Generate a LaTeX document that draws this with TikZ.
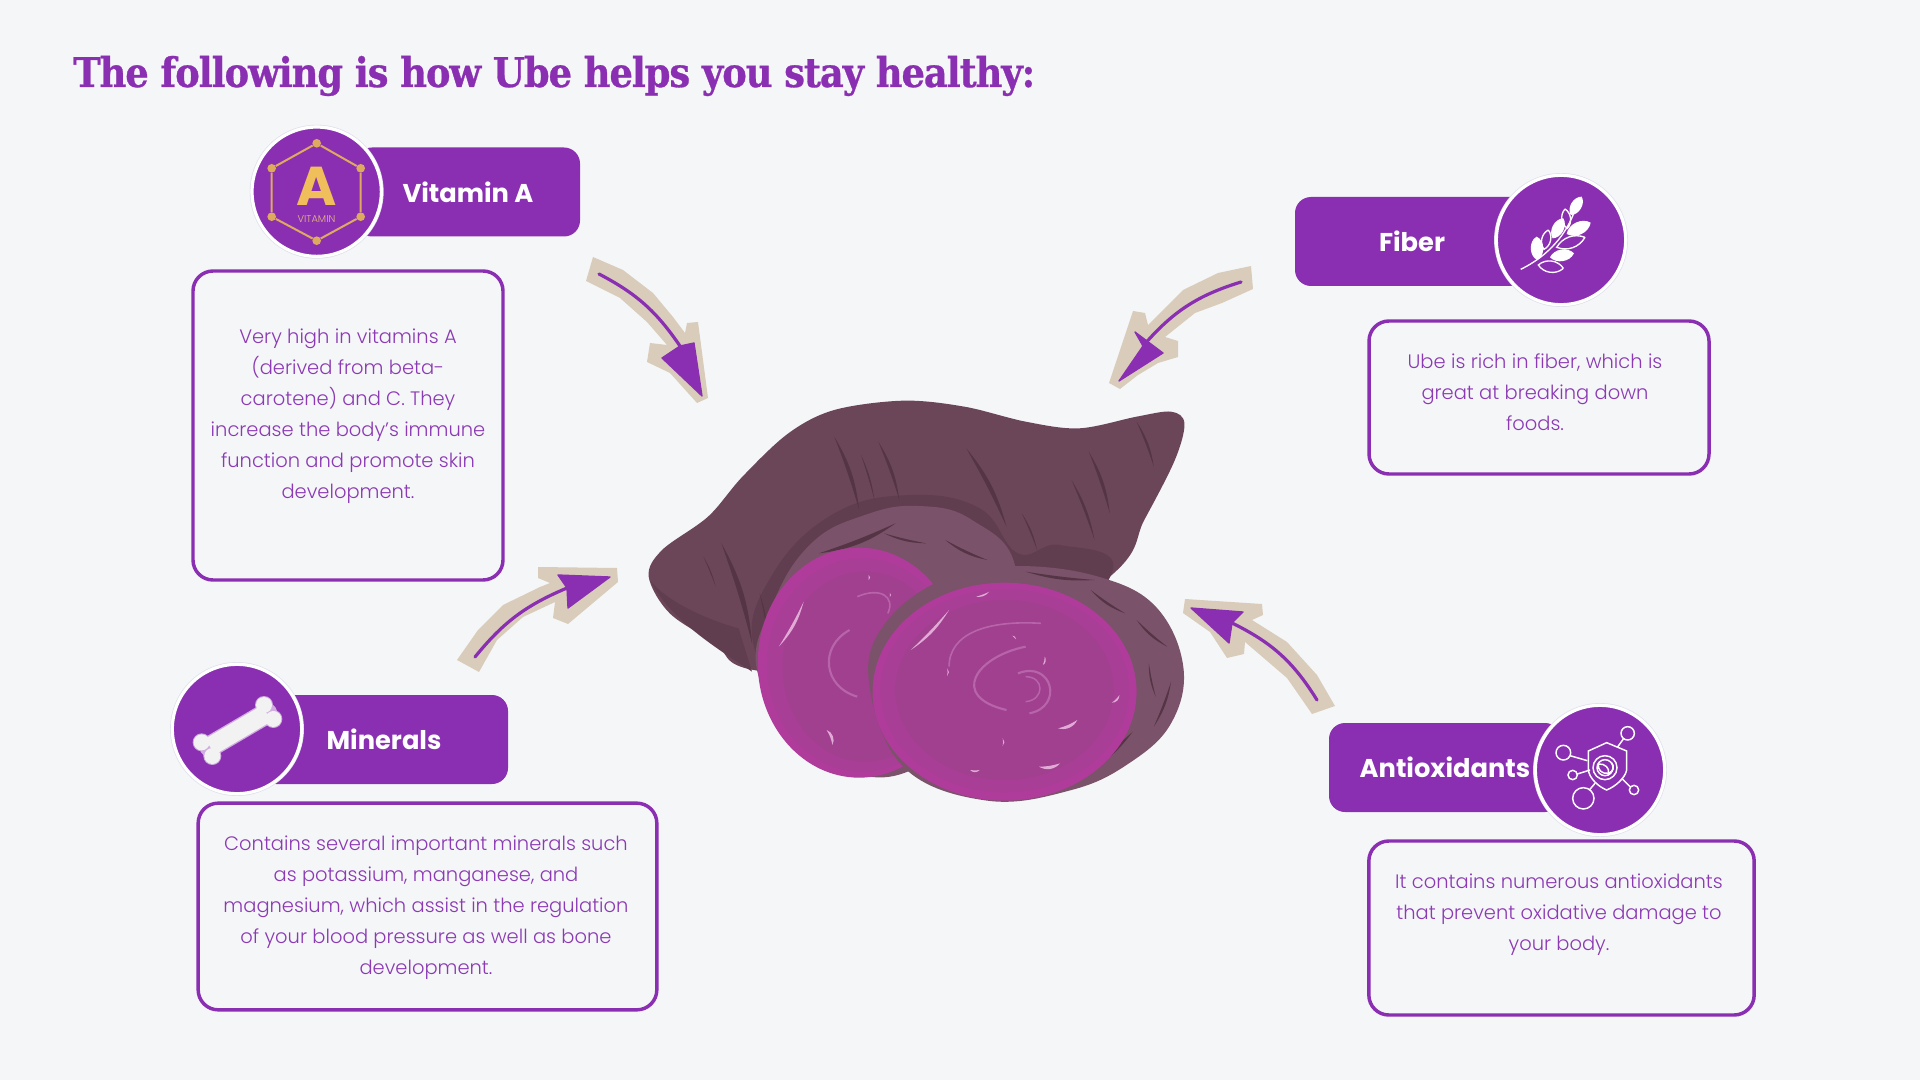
\documentclass[tikz,border=0pt]{standalone}
\usepackage{fontspec}
\usetikzlibrary{shapes.geometric, positioning, calc}
\newfontfamily\bodyfont{Poppins Light}
\newfontfamily\labelfont{Poppins Bold}
\newfontfamily\titlefont[FakeBold=0.7, LetterSpace=-2.6]{DejaVu Serif Condensed Bold}
\definecolor{pagecolor}{RGB}{245, 246, 248}
\definecolor{barcolor}{RGB}{138, 47, 178}
\definecolor{notecolor}{RGB}{139, 58, 180}
\definecolor{patchcolor}{RGB}{217, 204, 187}
\definecolor{goldcolor}{RGB}{222, 170, 95}
\definecolor{lettercolor}{RGB}{240, 190, 90}
\definecolor{ringcolor}{RGB}{222, 222, 235}
\definecolor{skincolor}{RGB}{107, 70, 89}
\definecolor{shadecolor}{RGB}{97, 62, 79}
\definecolor{streakcolor}{RGB}{84, 52, 69}
\definecolor{slicecolor}{RGB}{122, 82, 105}
\definecolor{rimcolor}{RGB}{175, 60, 154}
\definecolor{fleshcolor}{RGB}{160, 64, 143}
\definecolor{swirlcolor}{RGB}{184, 100, 170}
\definecolor{palecolor}{RGB}{226, 170, 214}
\newcommand{\crescent}[4][streak]{\fill[#1] #2 to[bend left=#4] #3 to[bend right=#4/5] #2;}
\newcommand{\leafshape}[3]{\fill[white] #1 to[bend left=#3] #2 to[bend left=#3] #1;}
\newcommand{\leafline}[3]{\draw[white, line width=1pt] #1 to[bend left=#3] #2 to[bend left=#3] #1;}

\begin{document}
\begin{tikzpicture}[
    x=0.75pt, y=-0.75pt,
    bar/.style={rectangle, rounded corners=12pt, fill=barcolor, text=white, minimum height=66.75pt, font=\labelfont\fontsize{19.3}{23}\selectfont},
    badge/.style={circle, inner sep=0pt, minimum size=97pt, fill=barcolor, draw=white, line width=2.4pt, preaction={draw=ringcolor, line width=3.4pt}},
    infobox/.style={rectangle, rounded corners=15pt, draw=barcolor, line width=2.6pt, minimum width=#1},
    note/.style={align=center, text=notecolor, font=\bodyfont\fontsize{14.6}{23.3}\selectfont},
    patch/.style={fill=patchcolor, line join=round},
    scrawl/.style={draw=barcolor, line width=2.4pt, line cap=round},
    scrawlhead/.style={fill=barcolor, draw=barcolor, line width=1pt, line join=round},
    streak/.style={fill=streakcolor},
    pale/.style={fill=palecolor},
    dot/.style={circle, fill=goldcolor, inner sep=0pt, minimum size=6.5pt}
]
\useasboundingbox (0,0) rectangle (1920,1080);
\fill[pagecolor] (0,0) rectangle (1920,1080);

% Title
\node[anchor=west, inner sep=0pt, text=barcolor, font=\titlefont\fontsize{30.7}{38}\selectfont] (title) at (73,76) {The following is how Ube helps you stay healthy:};

% Vitamin A
\node[bar, minimum width=168pt] (vita-bar) at (468,192) {Vitamin A};
\node[badge] (vita-badge) at (316.7,191.7) {};
\node[infobox=232.5pt, minimum height=231.75pt] (vita-box) at (348,425.5) {};
\node[note] (vita-note) at (348,416.5) {Very high in vitamins A\\(derived from beta-\\carotene) and C. They\\increase the body’s immune\\function and promote skin\\development.};

% hexagon of the vitamin icon
\node[dot] (hex1) at (316.7,143.3) {};
\node[dot] (hex2) at (360.7,168.3) {};
\node[dot] (hex3) at (360.7,216.7) {};
\node[dot] (hex4) at (316.7,240.7) {};
\node[dot] (hex5) at (271.7,216.7) {};
\node[dot] (hex6) at (271.7,168.3) {};
\draw[goldcolor, line width=1.5pt] (hex1) -- (hex2) -- (hex3) -- (hex4) -- (hex5) -- (hex6) -- (hex1);
\node[inner sep=0pt, text=lettercolor, font=\labelfont\fontsize{41}{41}\selectfont] (vita-letter) at (316.5,186) {A};
\node[inner sep=0pt, text=goldcolor!80!white, font=\bodyfont\fontsize{7.4}{8}\selectfont] (vita-word) at (316.5,219) {VITAMIN};

% Fiber
\node[bar, minimum width=175.5pt] (fiber-bar) at (1412,241.5) {Fiber};
\node[badge] (fiber-badge) at (1561,240) {};
\node[infobox=255pt, minimum height=114.75pt] (fiber-box) at (1539,397.5) {};
\node[note] (fiber-note) at (1535,392) {Ube is rich in fiber, which is\\great at breaking down\\foods.};

% sprig of the fiber icon
\begin{scope}[shift={(1280,160)}, x=0.25pt, y=-0.25pt]
    \draw[white, line width=1pt] (722,328) .. controls (810,285) and (860,220) .. (885,150);
    \leafshape{(905,110)}{(872,165)}{60}
    \leafline{(855,147)}{(862,205)}{50}
    \leafshape{(850,175)}{(818,235)}{60}
    \leafshape{(932,188)}{(860,222)}{55}
    \leafline{(805,210)}{(792,268)}{50}
    \leafline{(915,232)}{(830,262)}{40}
    \leafshape{(770,230)}{(772,300)}{65}
    \leafshape{(882,280)}{(810,292)}{55}
    \leafline{(850,325)}{(775,315)}{50}
\end{scope}

% Minerals
\node[bar, minimum width=186pt] (mineral-bar) at (384,739.5) {Minerals};
\node[badge] (mineral-badge) at (237,729) {};
\node[infobox=344pt, minimum height=155pt] (mineral-box) at (427.5,906.5) {};
\node[note] (mineral-note) at (426,907.5) {Contains several important minerals such\\as potassium, manganese, and\\magnesium, which assist in the regulation\\of your blood pressure as well as bone\\development.};

% bone of the minerals icon
\begin{scope}[shift={(160,650)}, x=0.25pt, y=-0.25pt]
    \foreach \c in {(125,277), (157,318), (312,165), (340,207)} {\fill[black!10!barcolor!40!white] \c circle (27);}
    \draw[barcolor!40!white, line width=16pt, line cap=round] (150,290) -- (320,190);
    \foreach \c in {(125,277), (157,318), (312,165), (340,207)} {\fill[white!95!black] \c circle (24);}
    \draw[white!95!black, line width=14pt] (150,290) -- (320,190);
\end{scope}

% Antioxidants
\node[bar, minimum width=174pt] (anti-bar) at (1445,767.5) {Antioxidants};
\node[badge] (anti-badge) at (1600,770) {};
\node[infobox=289pt, minimum height=130.5pt] (anti-box) at (1561.5,928) {};
\node[note] (anti-note) at (1559,914.5) {It contains numerous antioxidants\\that prevent oxidative damage to\\your body.};

% shield of the antioxidants icon
\begin{scope}[shift={(1300,690)}, x=0.25pt, y=-0.25pt, every path/.style={draw=white, line width=1.1pt}]
    \draw (790,188) circle (22);
    \draw (983,130) circle (20);
    \draw (818,255) circle (14);
    \draw (1002,300) circle (14);
    \draw (850,325) circle (32);
    \draw (810,197) -- (862,212);
    \draw (832,252) -- (870,240);
    \draw (868,300) -- (885,280);
    \draw (970,147) -- (952,172);
    \draw (965,265) -- (990,290);
    \draw (920,158) -- (980,183) -- (980,240) .. controls (975,265) and (945,290) .. (920,300) .. controls (895,290) and (868,265) .. (865,240) -- (865,183) -- cycle;
    \draw (915,233) circle (36);
    \draw (915,233) circle (24);
    \draw (895,222) .. controls (915,220) and (930,235) .. (925,250) .. controls (905,252) and (893,240) .. (895,222);
    \draw (925,250) .. controls (940,245) and (945,230) .. (935,218);
\end{scope}

% Ube
\begin{scope}[shift={(620,380)}, x=0.287pt, y=-0.25pt]
    % whole root
    \fill[skincolor] plot[smooth cycle, tension=0.55] coordinates {(75,590) (110,510) (230,410) (320,290) (440,160) (560,90) (740,62) (900,80) (1060,125) (1200,145) (1350,110) (1440,95) (1475,130) (1450,240) (1370,420) (1290,580) (900,900) (360,872) (250,790) (130,700)};
    \fill[shadecolor] (78,600) .. controls (110,650) and (200,710) .. (310,745) -- (345,875) .. controls (260,810) and (130,720) .. (78,600);
    \fill[shadecolor] plot[smooth cycle, tension=0.7] coordinates {(350,800) (400,580) (560,400) (760,345) (940,385) (1040,520) (1150,495) (1285,580) (1000,900) (500,1000)};
    \crescent{(560,170)}{(625,390)}{12}
    \crescent{(630,225)}{(665,360)}{8}
    \crescent{(675,185)}{(730,360)}{12}
    \crescent{(905,205)}{(1010,440)}{12}
    \crescent{(1225,215)}{(1280,400)}{12}
    \crescent{(1180,300)}{(1240,480)}{10}
    \crescent{(1050,400)}{(1090,510)}{10}
    \crescent{(1350,125)}{(1395,260)}{12}
    \crescent{(218,530)}{(250,620)}{8}
    \crescent{(265,490)}{(345,790)}{12}
    \crescent{(365,640)}{(385,760)}{8}
    % back slice
    \fill[slicecolor] plot[smooth cycle, tension=0.7] coordinates {(360,880) (400,670) (500,490) (640,405) (780,378) (920,420) (1035,570) (1000,900) (740,1180) (500,1100)};
    \crescent{(720,430)}{(520,520)}{14}
    \crescent{(800,490)}{(690,460)}{12}
    \crescent{(960,540)}{(850,480)}{14}
    \fill[rimcolor] (625,848) ellipse (265 and 345);
    \fill[rimcolor!55!fleshcolor] (632,855) ellipse (248 and 320);
    \fill[fleshcolor] (640,860) ellipse (215 and 285);
    \draw[swirlcolor, line width=1.6pt] (600,750) .. controls (520,800) and (530,920) .. (620,950);
    \draw[swirlcolor, line width=1.2pt] (620,650) .. controls (680,620) and (720,650) .. (700,700);
    \crescent[pale]{(480,665)}{(415,800)}{14}
    \crescent[pale]{(540,1050)}{(555,1095)}{50}
    \crescent[pale]{(650,585)}{(650,600)}{60}
    \crescent[pale]{(705,638)}{(705,652)}{60}
    % front slice
    \fill[slicecolor] plot[smooth cycle, tension=0.65] coordinates {(650,900) (700,720) (860,590) (1040,558) (1250,590) (1400,680) (1472,860) (1440,1030) (1330,1150) (1180,1230) (960,1262) (740,1160)};
    \crescent{(1240,600)}{(1060,575)}{10}
    \crescent{(1320,700)}{(1230,630)}{14}
    \crescent{(1430,800)}{(1350,720)}{14}
    \crescent{(1382,850)}{(1400,950)}{-12}
    \crescent{(1440,905)}{(1395,1040)}{12}
    \crescent{(1340,1055)}{(1190,1195)}{14}
    \fill[rimcolor] (1005,935) ellipse (345 and 327);
    \fill[rimcolor!55!fleshcolor] (1005,932) ellipse (325 and 305);
    \fill[fleshcolor] (1005,930) ellipse (285 and 270);
    \draw[swirlcolor, line width=1.6pt] (1060,800) .. controls (930,830) and (860,950) .. (1010,990);
    \draw[swirlcolor, line width=1.6pt] (1040,880) .. controls (1130,840) and (1160,980) .. (1070,1000);
    \draw[swirlcolor, line width=1.1pt] (1060,890) .. controls (1110,890) and (1110,960) .. (1060,965);
    \draw[swirlcolor, line width=1.2pt] (860,860) .. controls (860,760) and (960,720) .. (1100,730);
    \crescent[pale]{(860,690)}{(760,810)}{12}
    \crescent[pale]{(965,635)}{(930,650)}{30}
    \crescent[pale]{(1195,1020)}{(1145,1045)}{40}
    \crescent[pale]{(1150,1150)}{(1095,1160)}{40}
    \crescent[pale]{(1305,945)}{(1285,968)}{50}
    \crescent[pale]{(1110,830)}{(1105,855)}{50}
    \crescent[pale]{(855,865)}{(855,888)}{50}
    \crescent[pale]{(1000,1075)}{(1000,1098)}{50}
    \crescent[pale]{(940,1170)}{(915,1170)}{50}
    \crescent[pale]{(1025,767)}{(1035,778)}{50}
\end{scope}

% Arrows towards the root
\coordinate (vita-tail) at (599,274);
\coordinate (vita-notch) at (680,346);
\coordinate (fiber-tail) at (1241,282);
\coordinate (fiber-notch) at (1143,346);
\coordinate (mineral-tail) at (475,657);
\coordinate (mineral-notch) at (567,588);
\coordinate (anti-tail) at (1317,700);
\coordinate (anti-notch) at (1232,623);

\fill[patch] (593,257) -- (623,270) -- (653,293) -- (673,317) -- (685,333) -- (687,323) -- (698,322) -- (708,398) -- (697,403) -- (670,373) -- (647,362) -- (650,343) -- (667,345) -- (647,322) -- (620,298) -- (586,281) -- cycle;
\draw[scrawl] (vita-tail) to[bend left=14] (vita-notch);
\fill[scrawlhead] (694,343) -- (702,396) -- (662,358) -- (vita-notch) -- cycle;

\fill[patch] (1251,266) -- (1253,289) -- (1222,303) -- (1195,313) -- (1165,337) -- (1178,341) -- (1178,357) -- (1158,363) -- (1138,375) -- (1120,389) -- (1109,383) -- (1133,311) -- (1145,313) -- (1148,325) -- (1183,290) -- (1218,273) -- cycle;
\draw[scrawl] (fiber-tail) to[bend right=16] (fiber-notch);
\fill[scrawlhead] (1135,332) -- (1163,353) -- (1119,381) -- (fiber-notch) -- cycle;

\fill[patch] (538,567) -- (617,568) -- (618,582) -- (568,624) -- (553,618) -- (555,602) -- (523,617) -- (497,640) -- (479,672) -- (457,660) -- (478,630) -- (503,605) -- (540,587) -- (550,583) -- (538,578) -- cycle;
\draw[scrawl] (mineral-tail) to[bend left=14] (mineral-notch);
\fill[scrawlhead] (558,575) -- (610,577) -- (568,608) -- (mineral-notch) -- cycle;

\fill[patch] (1185,599) -- (1262,604) -- (1263,615) -- (1252,620) -- (1287,642) -- (1317,675) -- (1335,706) -- (1312,714) -- (1287,678) -- (1245,642) -- (1244,654) -- (1227,658) -- (1210,632) -- (1183,613) -- cycle;
\draw[scrawl] (anti-tail) to[bend right=16] (anti-notch);
\fill[scrawlhead] (1191,608) -- (1243,612) -- (anti-notch) -- (1229,643) -- cycle;

\end{tikzpicture}
\end{document}
